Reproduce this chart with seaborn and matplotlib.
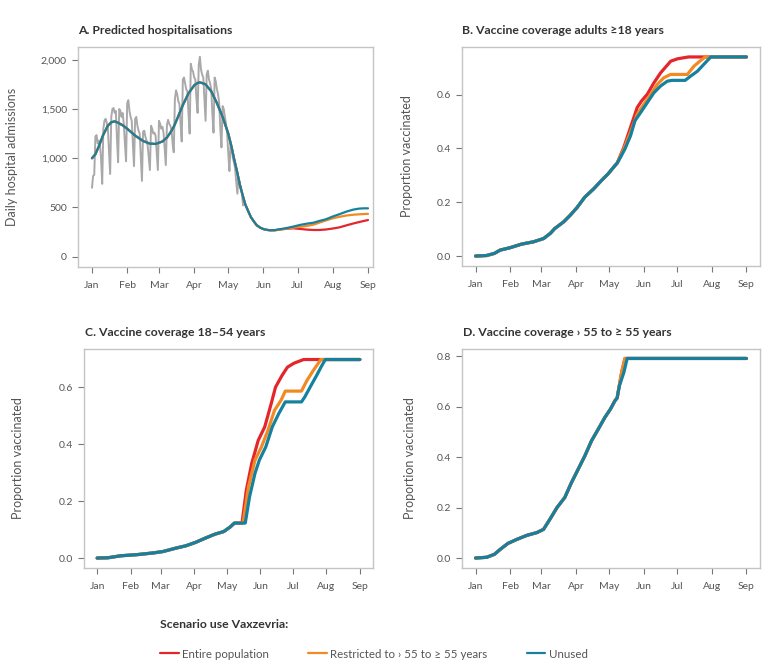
import numpy as np
import pandas as pd
import matplotlib
matplotlib.use("Agg")
import matplotlib.pyplot as plt
import matplotlib.dates as mdates
import matplotlib.ticker as mticker
from matplotlib.lines import Line2D
import seaborn as sns

# days counted from 1 Jan 2021
start = pd.Timestamp("2021-01-01")

# A. observed daily admissions (grey)
obs_days = list(range(0, 134))
obs_vals = [700, 820, 830,
            1220, 1235, 1150, 1180, 1140, 1000, 740,
            1300, 1380, 1400, 1360, 1300, 1080, 840,
            1420, 1500, 1510, 1460, 1480, 1200, 960,
            1500, 1480, 1420, 1460, 1350, 1150, 970,
            1560, 1590, 1480, 1420, 1380, 1150, 920,
            1400, 1420, 1330, 1280, 1250, 1000, 770,
            1270, 1280, 1220, 1180, 1130, 1000, 880,
            1330, 1300, 1250, 1260, 1230, 1050, 880,
            1380, 1350, 1300, 1320, 1260, 1100, 930,
            1340, 1390, 1350, 1330, 1290, 1150, 1060,
            1600, 1690, 1650, 1580, 1550, 1350, 1170,
            1800, 1820, 1760, 1700, 1680, 1450, 1250,
            1960, 1900, 1880, 1820, 1800, 1600, 1460,
            1950, 2030, 1900, 1850, 1820, 1600, 1380,
            1850, 1890, 1800, 1760, 1700, 1450, 1260,
            1820, 1780, 1700, 1650, 1560, 1300, 1110,
            1530, 1500, 1420, 1350, 1250, 1050, 870,
            1150, 1100, 1000, 960, 900, 760, 640,
            800, 760, 680, 640, 520]

# A. model fit, shared part then per scenario
fit_days = [0, 3, 6, 10, 14, 17, 20, 23, 27, 31, 38, 45, 51, 56, 62, 66, 69, 72,
            75, 80, 85, 90, 93, 95, 98, 100, 105, 110, 115, 120, 123, 125, 128,
            130, 133, 135, 138, 140, 143, 145, 148, 151, 154, 157]
fit_vals = [1000, 1040, 1120, 1240, 1330, 1365, 1375, 1360, 1335, 1300, 1230, 1175,
            1148, 1145, 1170, 1210, 1260, 1320, 1400, 1540, 1660, 1740, 1765, 1770,
            1760, 1750, 1680, 1560, 1420, 1250, 1110, 1000, 850, 740, 610, 530, 450,
            400, 350, 320, 295, 280, 272, 268]
tail_days = [161, 165, 171, 177, 183, 189, 195, 200, 206, 212, 218, 224, 230, 235, 239, 243]
tail_unused = [270, 278, 290, 305, 322, 335, 345, 362, 380, 408, 432, 458, 478, 488, 491, 491]
tail_restricted = [268, 274, 284, 295, 303, 312, 325, 345, 368, 390, 405, 418, 426, 430, 433, 435]
tail_entire = [268, 276, 283, 288, 282, 275, 271, 271, 276, 286, 298, 318, 337, 351, 362, 372]

# B. coverage adults >=18
b_days = [0, 10, 17, 22, 31, 41, 52, 61, 67, 71, 79, 85, 91, 98, 106, 113, 119, 125, 127]
b_vals = [0.0, 0.002, 0.01, 0.022, 0.031, 0.044, 0.053, 0.065, 0.084, 0.102, 0.127,
          0.152, 0.18, 0.219, 0.25, 0.281, 0.306, 0.336, 0.345]
b_unused_d = [130, 134, 139, 143, 148, 154, 160, 166, 172, 176, 188, 193, 199, 206, 211, 243]
b_unused_v = [0.367, 0.398, 0.447, 0.503, 0.533, 0.57, 0.607, 0.632, 0.65, 0.653, 0.653,
              0.669, 0.687, 0.718, 0.74, 0.74]
b_restr_d = [133, 139, 145, 151, 157, 163, 169, 175, 190, 196, 202, 206, 243]
b_restr_v = [0.398, 0.46, 0.527, 0.564, 0.601, 0.638, 0.663, 0.675, 0.675, 0.706, 0.727,
             0.74, 0.74]
b_entire_d = [133, 139, 145, 149, 154, 160, 166, 175, 181, 191, 243]
b_entire_v = [0.404, 0.478, 0.552, 0.577, 0.601, 0.644, 0.681, 0.724, 0.733, 0.74, 0.74]

# C. coverage 18-54
c_days = [0, 10, 22, 37, 52, 61, 73, 82, 91, 100, 109, 117, 123, 127, 134]
c_vals = [0.0, 0.001, 0.008, 0.012, 0.018, 0.023, 0.035, 0.043, 0.055, 0.07, 0.084,
          0.093, 0.109, 0.123, 0.123]
c_unused_d = [137, 141, 146, 150, 156, 162, 168, 174, 189, 192, 197, 203, 207, 211, 243]
c_unused_v = [0.123, 0.216, 0.298, 0.344, 0.391, 0.461, 0.508, 0.549, 0.549, 0.566,
              0.601, 0.642, 0.671, 0.698, 0.698]
c_restr_d = [135, 140, 146, 152, 158, 164, 170, 174, 189, 194, 200, 207, 243]
c_restr_v = [0.123, 0.251, 0.344, 0.391, 0.449, 0.519, 0.554, 0.587, 0.587, 0.624, 0.66,
             0.698, 0.698]
c_entire_d = [134, 138, 143, 149, 155, 161, 165, 171, 176, 182, 191, 243]
c_entire_v = [0.123, 0.239, 0.333, 0.414, 0.461, 0.543, 0.601, 0.642, 0.671, 0.685,
              0.698, 0.698]

# D. coverage >55
d_days = [0, 10, 17, 22, 29, 37, 46, 55, 61, 67, 73, 80, 86, 92, 98, 104, 110, 116,
          121, 125, 127]
d_vals = [0.0, 0.003, 0.015, 0.034, 0.058, 0.074, 0.09, 0.101, 0.114, 0.156, 0.2, 0.24,
          0.299, 0.352, 0.405, 0.465, 0.511, 0.558, 0.591, 0.624, 0.635]
d_unused_d = [129, 133, 136, 243]
d_unused_v = [0.683, 0.736, 0.792, 0.792]
d_restr_d = [131, 134, 243]
d_restr_v = [0.736, 0.792, 0.792]
d_entire_d = [131, 134, 243]
d_entire_v = [0.736, 0.792, 0.792]

scenarios = ["Entire population", "Restricted to \u203a 55 to \u2265 55 years", "Unused"]
colors = {"Entire population": "#e4262c",
          "Restricted to \u203a 55 to \u2265 55 years": "#f28a24",
          "Unused": "#16819f"}
grey_txt = "#555555"


def to_dates(days):
    return start + pd.to_timedelta(np.array(days, dtype=float), unit="D")


def scenario_frame(base_d, base_v, tails):
    rows = []
    for name, (td, tv) in zip(scenarios, tails):
        for d, v in zip(list(base_d) + list(td), list(base_v) + list(tv)):
            rows.append({"date": d, "value": v, "scenario": name})
    df = pd.DataFrame(rows)
    df["date"] = to_dates(df["date"])
    return df


sns.set_style("white")
plt.rcParams["font.family"] = ["Lato", "DejaVu Sans"]

fig = plt.figure(figsize=(7.83, 6.71), dpi=100)
W, H = 783, 671


def px_axes(l, t, r, b):
    return fig.add_axes([l / W, 1 - b / H, (r - l) / W, (b - t) / H])


axA = px_axes(78, 47, 373, 267)
axB = px_axes(462, 47, 760, 266)
axC = px_axes(84, 349, 373, 568)
axD = px_axes(462, 349, 760, 568)

# panel A
obs = pd.DataFrame({"date": to_dates(obs_days), "value": obs_vals})
sns.lineplot(data=obs, x="date", y="value", color="#a9a9a9", lw=1.4, ax=axA)
dfA = scenario_frame(fit_days, fit_vals,
                     [(tail_days, tail_entire), (tail_days, tail_restricted),
                      (tail_days, tail_unused)])
sns.lineplot(data=dfA, x="date", y="value", hue="scenario", hue_order=scenarios,
             palette=colors, lw=1.6, ax=axA, legend=False, sort=False)
axA.set_ylim(-105, 2130)
axA.set_xlim(start - pd.Timedelta(days=12.3), start + pd.Timedelta(days=247.4))
axA.yaxis.set_major_locator(mticker.MultipleLocator(500))
axA.yaxis.set_major_formatter(mticker.StrMethodFormatter("{x:,.0f}"))

# coverage panels
for ax, bd, bv, tails in [
    (axB, b_days, b_vals, [(b_entire_d, b_entire_v), (b_restr_d, b_restr_v), (b_unused_d, b_unused_v)]),
    (axC, c_days, c_vals, [(c_entire_d, c_entire_v), (c_restr_d, c_restr_v), (c_unused_d, c_unused_v)]),
    (axD, d_days, d_vals, [(d_entire_d, d_entire_v), (d_restr_d, d_restr_v), (d_unused_d, d_unused_v)]),
]:
    df = scenario_frame(bd, bv, tails)
    sns.lineplot(data=df, x="date", y="value", hue="scenario", hue_order=scenarios,
                 palette=colors, lw=2.3, ax=ax, legend=False, sort=False)
    ax.yaxis.set_major_locator(mticker.MultipleLocator(0.2))
    ax.yaxis.set_major_formatter(mticker.FormatStrFormatter("%.1f"))
    ax.set_xlim(start - pd.Timedelta(days=12.15), start + pd.Timedelta(days=255.15))

axB.set_ylim(-0.037, 0.777)
axC.set_ylim(-0.035, 0.735)
axD.set_ylim(-0.0395, 0.8295)

titles = ["A. Predicted hospitalisations", "B. Vaccine coverage adults \u226518 years",
          "C. Vaccine coverage 18\u201354 years", "D. Vaccine coverage \u203a 55 to \u2265 55 years"]
ylabels = ["Daily hospital admissions", "Proportion vaccinated",
           "Proportion vaccinated", "Proportion vaccinated"]
label_x = [-0.203, -0.164, -0.208, -0.154]
title_pos = [(78, 30), (462, 30), (85, 332), (463, 333)]

for ax, t, yl, lx, (tx, ty) in zip([axA, axB, axC, axD], titles, ylabels, label_x, title_pos):
    ax.xaxis.set_major_locator(mdates.MonthLocator())
    ax.xaxis.set_major_formatter(mdates.DateFormatter("%b"))
    ax.set_xlabel("")
    ax.set_ylabel(yl, fontsize=9, color=grey_txt)
    ax.yaxis.set_label_coords(lx, 0.5)
    ax.tick_params(axis="both", which="major", length=4, width=0.8, color="#777777",
                   labelsize=7.5, labelcolor=grey_txt, direction="out",
                   bottom=True, left=True, pad=4)
    ax.tick_params(axis="x", pad=6)
    for s in ax.spines.values():
        s.set_color("#c4c4c4")
        s.set_linewidth(1.0)
    fig.text(tx / W, 1 - ty / H, t, fontsize=8.8, fontweight="bold", color="#333333",
             ha="left", va="center")

# legend
fig.text(160 / W, 1 - 625 / H, "Scenario use Vaxzevria:", fontsize=8.8,
         fontweight="bold", color="#333333", ha="left", va="center")
handles = [Line2D([0], [0], color=colors[s], lw=1.6) for s in scenarios]
fig.legend(handles, scenarios, loc="center left", bbox_to_anchor=(150 / W, 1 - 654 / H),
           ncol=3, frameon=False, fontsize=8.3, handlelength=1.6, handletextpad=0.3,
           columnspacing=3.4, labelcolor=grey_txt)

fig.savefig("out.png", dpi=100)
